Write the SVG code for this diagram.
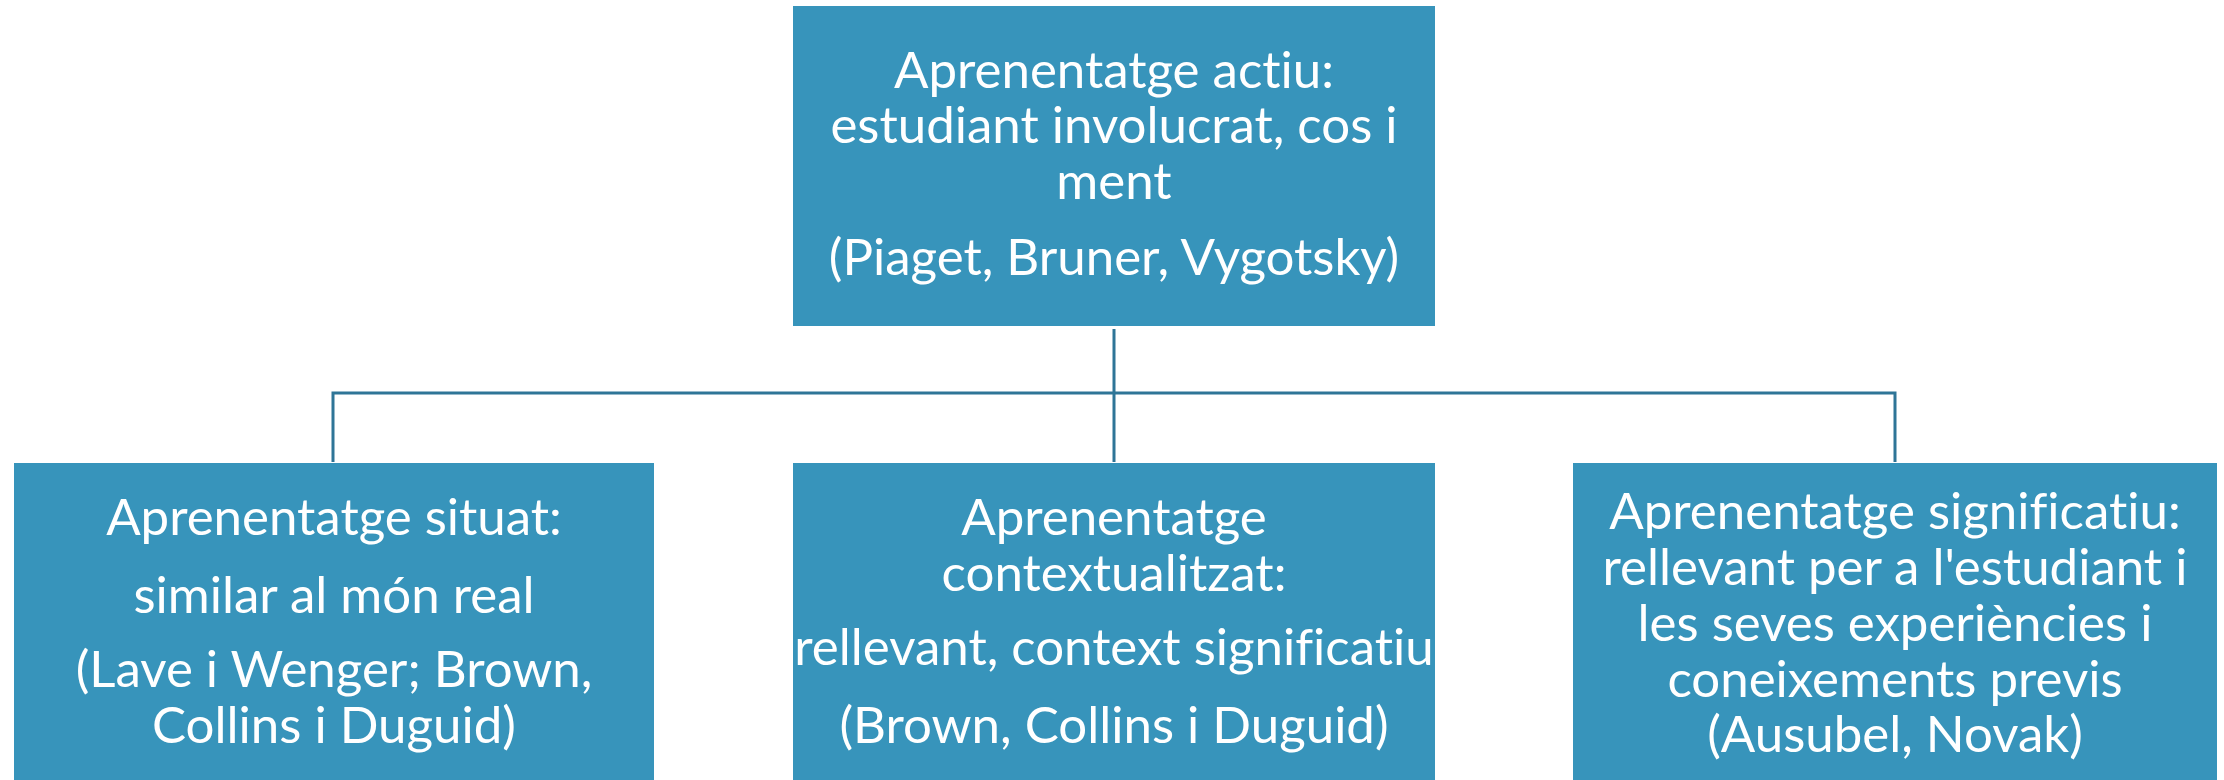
<svg xmlns="http://www.w3.org/2000/svg" width="2224" height="780" viewBox="0 0 2224 780">
<style>
.box{fill:#3794bb;}
.t{font-family:Lato,"Open Sans","Liberation Sans",sans-serif;font-size:51px;fill:#ffffff;text-anchor:middle;font-variant-ligatures:none;}
.c{fill:none;stroke:#2e7597;stroke-width:3;}
</style>
<rect width="2224" height="780" fill="#ffffff"/>
<g id="connectors">
<path class="c" d="M1114 329 V393 M333 462 V393 H1895 V462 M1114 393 V462"/>
</g>
<g id="n_actiu">
<rect class="box" x="793" y="6" width="642" height="320"/>
<text class="t"><tspan x="1114" y="88">Aprenentatge actiu:</tspan><tspan x="1114" y="143">estudiant involucrat, cos i</tspan><tspan x="1114" y="199">ment</tspan><tspan x="1114" y="275">(Piaget, Bruner, Vygotsky)</tspan></text>
</g>
<g id="n_situat">
<rect class="box" x="14" y="463" width="640" height="317"/>
<text class="t"><tspan x="334" y="535">Aprenentatge situat:</tspan><tspan x="334" y="613">similar al món real</tspan><tspan x="334" y="687">(Lave i Wenger; Brown,</tspan><tspan x="334" y="743">Collins i Duguid)</tspan></text>
</g>
<g id="n_context">
<rect class="box" x="793" y="463" width="642" height="317"/>
<text class="t"><tspan x="1114" y="535">Aprenentatge</tspan><tspan x="1114" y="591">contextualitzat:</tspan><tspan x="1114" y="665">rellevant, context significatiu</tspan><tspan x="1114" y="743">(Brown, Collins i Duguid)</tspan></text>
</g>
<g id="n_signif">
<rect class="box" x="1573" y="463" width="644" height="317"/>
<text class="t"><tspan x="1895" y="529">Aprenentatge significatiu:</tspan><tspan x="1895" y="585">rellevant per a l'estudiant i</tspan><tspan x="1895" y="641">les seves experiències i</tspan><tspan x="1895" y="697">coneixements previs</tspan><tspan x="1895" y="752">(Ausubel, Novak)</tspan></text>
</g>
</svg>
